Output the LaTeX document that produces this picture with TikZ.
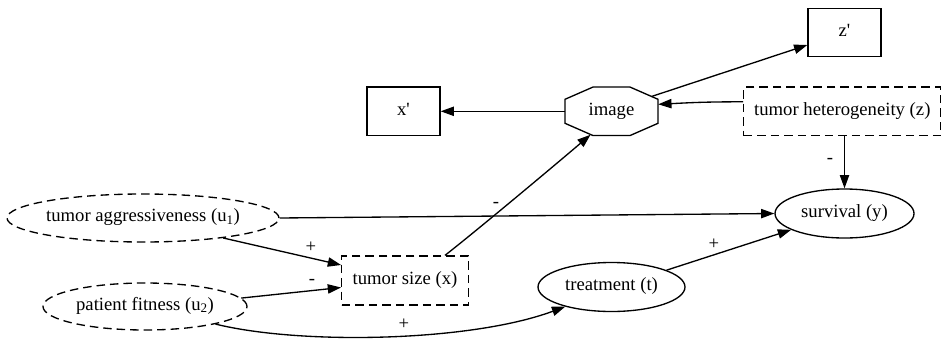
\documentclass[tikz,border=0pt]{standalone}
\usepackage{fontspec}
\newfontfamily\gvfont{Liberation Serif}
\usetikzlibrary{shapes.geometric,arrows.meta,calc}
\begin{document}
\begin{tikzpicture}[x=1pt,y=-1pt,
  every node/.style={font=\gvfont\fontsize{18.67}{22}\selectfont},
  box/.style={draw, line width=1.33pt, rectangle, inner sep=0pt,
    minimum height=48.5pt, text height=1em, text depth=0.25em},
  dbox/.style={box, dash pattern=on 8.5pt off 5pt},
  oval/.style={draw, line width=1.33pt, ellipse, inner sep=0pt,
    text height=1em, text depth=0.25em},
  doval/.style={oval, dash pattern=on 8.5pt off 5pt},
  link/.style={line width=1.33pt, -{Triangle[length=13.3pt,width=9.3pt]}},
  sign/.style={inner sep=0pt, text height=0.7em, text depth=0.2em}
]
\useasboundingbox (0,0) rectangle (947,340);

% nodes
\node[box, minimum width=73pt] (zp) at (844.5,32.5) {z'};
\node[box, minimum width=73pt] (xp) at (403.5,111.3) {x'};
\node[inner sep=0pt, minimum width=93pt, minimum height=48.5pt,
      text height=1em, text depth=0.25em] (img) at (611.5,111.3) {image};
\draw[line width=1.33pt]
  ($(img.center)+(-18.5,-24.25)$) -- ($(img.center)+(18.5,-24.25)$)
  -- ($(img.center)+(46.5,-12)$) -- ($(img.center)+(46.5,12)$)
  -- ($(img.center)+(18.5,24.25)$) -- ($(img.center)+(-18.5,24.25)$)
  -- ($(img.center)+(-46.5,12)$) -- ($(img.center)+(-46.5,-12)$) -- cycle;
\node[dbox, minimum width=197pt] (het) at (842.3,111.3) {tumor heterogeneity (z)};
\node[oval, minimum width=139pt, minimum height=49pt] (y) at (844.5,213.5)
  {\makebox[0pt]{survival (y)}};
\node[doval, minimum width=272pt, minimum height=48pt] (u1) at (143,218)
  {\makebox[0pt]{tumor aggressiveness (u\textsubscript{1})}};
\node[dbox, minimum width=126.5pt, minimum height=49pt] (x) at (405,280.5) {tumor size (x)};
\node[doval, minimum width=204pt, minimum height=47pt] (u2) at (145,306.5)
  {\makebox[0pt]{patient fitness (u\textsubscript{2})}};
\node[oval, minimum width=147pt, minimum height=49pt] (t) at (611.5,287)
  {\makebox[0pt]{treatment (t)}};

% edges
\draw[link] (img.west) -- (xp.east);
\draw[link] ($(img.center)+(40,-14.8)$) -- ($(zp.west)+(0,12.5)$);
\draw[link] ($(het.west)+(0,-9.5)$) .. controls +(-40,0) and +(30,-1.5) .. ($(img.east)+(0,-7)$);
\draw[link] (het.south -| y.north) -- (y.north);
\draw[link] (u1.east) -- (y.west);
\draw[link] (u1.-14) -- ($(x.west)+(0,-15.5)$);
\draw[link] (u2.5) -- ($(x.west)+(0,7)$);
\draw[link] (u2.-14.5) .. controls (300,345) and (470,342) .. (t.203.7);
\draw[link] ($(x.north)+(40,0)$) .. controls (475,232) and (555,165) .. ($(img.south)+(-21,-1)$);
\draw[link] (t.17.8) -- (y.197.9);

% edge signs
\node[sign] (s1) at (311,250) {+};
\node[sign] (s2) at (312,282) {-};
\node[sign] (s3) at (404,327) {+};
\node[sign] (s4) at (496,205) {-};
\node[sign] (s5) at (714,247) {+};
\node[sign] (s6) at (830,161) {-};
\end{tikzpicture}
\end{document}
